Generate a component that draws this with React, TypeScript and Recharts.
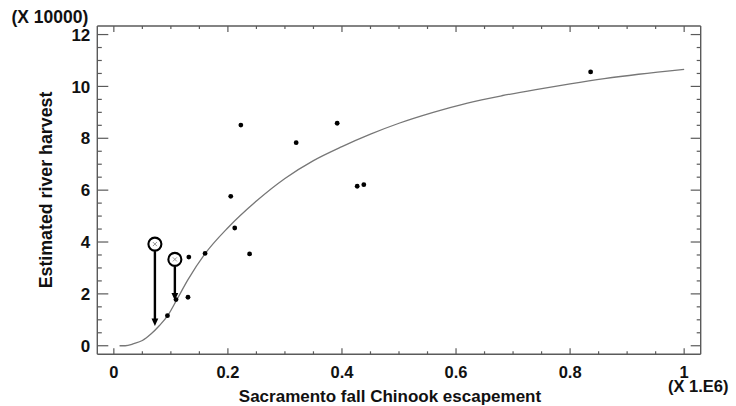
import React from "react";
import {
  ComposedChart,
  Line,
  Scatter,
  XAxis,
  YAxis,
  ReferenceLine,
} from "recharts";

// fitted curve (escapement in millions, harvest in 10000s)
const curveX = [0.01, 0.02, 0.035, 0.05, 0.065, 0.08, 0.095, 0.11, 0.13, 0.16, 0.2, 0.25, 0.3, 0.35, 0.4, 0.45, 0.5, 0.56, 0.62, 0.68, 0.74, 0.8, 0.86, 0.92, 1.0];
const curveY = [0, 0, 0.08, 0.2, 0.45, 0.78, 1.18, 1.76, 2.55, 3.55, 4.55, 5.58, 6.45, 7.14, 7.68, 8.16, 8.58, 9.0, 9.36, 9.64, 9.88, 10.1, 10.3, 10.47, 10.66];

// observed years
const obsX = [0.094, 0.109, 0.130, 0.1315, 0.16, 0.205, 0.212, 0.2227, 0.238, 0.3197, 0.3916, 0.4267, 0.4383, 0.836];
const obsY = [1.16, 1.78, 1.87, 3.42, 3.56, 5.76, 4.54, 8.51, 3.54, 7.83, 8.58, 6.15, 6.21, 10.56];

// circled points and where their arrows point
const flagX = [0.072, 0.107];
const flagY = [3.92, 3.33];
const flagTo = [0.76, 1.74];

const xTicks = [0, 0.05, 0.1, 0.15, 0.2, 0.25, 0.3, 0.35, 0.4, 0.45, 0.5, 0.55, 0.6, 0.65, 0.7, 0.75, 0.8, 0.85, 0.9, 0.95, 1];
const yTicks = [0, 0.5, 1, 1.5, 2, 2.5, 3, 3.5, 4, 4.5, 5, 5.5, 6, 6.5, 7, 7.5, 8, 8.5, 9, 9.5, 10, 10.5, 11, 11.5, 12];

const X_DOMAIN: [number, number] = [-0.029, 1.029];
const Y_DOMAIN: [number, number] = [-0.33, 12.33];

const FONT = "'Liberation Sans', Arial, sans-serif";
const FRAME = "#5a5a5a";
const axisLine = { stroke: FRAME, strokeWidth: 1.4 };

const isMajorX = (v: number) => Math.abs(v * 5 - Math.round(v * 5)) < 1e-6;
const isMajorY = (v: number) => Math.abs(v / 2 - Math.round(v / 2)) < 1e-6;
const fmtX = (v: number) => (v === 0 ? "0" : v === 1 ? "1" : v.toFixed(1));

const bottomTick = (p: any) => {
  const v = p.payload.value;
  const major = isMajorX(v);
  return (
    <g>
      <line x1={p.x} x2={p.x} y1={p.y} y2={p.y - (major ? 6 : 3)} stroke={FRAME} strokeWidth={1.2} />
      {major && (
        <text x={p.x} y={p.y + 23.5} textAnchor="middle" fontFamily={FONT} fontWeight="bold" fontSize={16.5} fill="#111">
          {fmtX(v)}
        </text>
      )}
    </g>
  );
};

const topTick = (p: any) => {
  const major = isMajorX(p.payload.value);
  return <line x1={p.x} x2={p.x} y1={p.y} y2={p.y + (major ? 6 : 3)} stroke={FRAME} strokeWidth={1.2} />;
};

const leftTick = (p: any) => {
  const v = p.payload.value;
  const major = isMajorY(v);
  return (
    <g>
      <line x1={p.x} x2={p.x + (major ? 11 : 4.5)} y1={p.y} y2={p.y} stroke={FRAME} strokeWidth={1.2} />
      {major && (
        <text x={p.x - 7} y={p.y} dy="0.36em" textAnchor="end" fontFamily={FONT} fontWeight="bold" fontSize={17} fill="#111">
          {v}
        </text>
      )}
    </g>
  );
};

const rightTick = (p: any) => {
  const major = isMajorY(p.payload.value);
  return <line x1={p.x} x2={p.x - (major ? 10 : 4)} y1={p.y} y2={p.y} stroke={FRAME} strokeWidth={1.2} />;
};

const dotShape = (p: any) => <circle cx={p.cx} cy={p.cy} r={2.4} fill="#000" />;

const flagShape = (p: any) => (
  <g>
    <circle cx={p.cx} cy={p.cy} r={6.5} fill="#fff" stroke="#000" strokeWidth={2.1} />
    <path
      d={`M${p.cx - 2},${p.cy - 2}L${p.cx + 2},${p.cy + 2}M${p.cx - 2},${p.cy + 2}L${p.cx + 2},${p.cy - 2}`}
      stroke="#888"
      strokeWidth={0.9}
    />
  </g>
);

const arrowShape = (p: any) => {
  const x = p.x1;
  const top = Math.min(p.y1, p.y2) + 7;
  const tip = Math.max(p.y1, p.y2);
  return (
    <g>
      <line x1={x} x2={x} y1={top} y2={tip - 6} stroke="#000" strokeWidth={2.4} />
      <polygon points={`${x - 3.4},${tip - 7.5} ${x + 3.4},${tip - 7.5} ${x},${tip}`} fill="#000" />
    </g>
  );
};

export default function App() {
  const curve = curveX.map((x, i) => ({ x, y: curveY[i] }));
  const obs = obsX.map((x, i) => ({ x, y: obsY[i] }));
  const flags = flagX.map((x, i) => ({ x, y: flagY[i] }));

  return (
    <div style={{ position: "absolute", left: 0, top: 0, width: 736, height: 406, background: "#fff" }}>
      <ComposedChart
        width={736}
        height={406}
        margin={{ top: 16, right: 25.3, bottom: 21.7, left: 37.3 }}
      >
        <XAxis
          xAxisId="b"
          type="number"
          dataKey="x"
          domain={X_DOMAIN}
          ticks={xTicks}
          interval={0}
          allowDataOverflow
          height={30}
          tickSize={0}
          tickMargin={0}
          axisLine={axisLine}
          tickLine={false}
          tick={bottomTick}
        />
        <XAxis
          xAxisId="t"
          orientation="top"
          type="number"
          dataKey="x"
          domain={X_DOMAIN}
          ticks={xTicks}
          interval={0}
          allowDataOverflow
          height={10}
          tickSize={0}
          tickMargin={0}
          axisLine={axisLine}
          tickLine={false}
          tick={topTick}
        />
        <YAxis
          yAxisId="l"
          type="number"
          dataKey="y"
          domain={Y_DOMAIN}
          ticks={yTicks}
          interval={0}
          allowDataOverflow
          width={60}
          tickSize={0}
          tickMargin={0}
          axisLine={axisLine}
          tickLine={false}
          tick={leftTick}
        />
        <YAxis
          yAxisId="r"
          orientation="right"
          type="number"
          dataKey="y"
          domain={Y_DOMAIN}
          ticks={yTicks}
          interval={0}
          allowDataOverflow
          width={10}
          tickSize={0}
          tickMargin={0}
          axisLine={axisLine}
          tickLine={false}
          tick={rightTick}
        />

        <Line
          xAxisId="b"
          yAxisId="l"
          data={curve}
          dataKey="y"
          type="monotone"
          stroke="#777"
          strokeWidth={1.3}
          dot={false}
          activeDot={false}
          isAnimationActive={false}
        />

        {flagX.map((x, i) => (
          <ReferenceLine
            key={i}
            xAxisId="b"
            yAxisId="l"
            segment={[
              { x, y: flagY[i] },
              { x, y: flagTo[i] },
            ]}
            shape={arrowShape}
          />
        ))}

        <Scatter xAxisId="b" yAxisId="l" data={obs} dataKey="y" shape={dotShape} isAnimationActive={false} />
        <Scatter xAxisId="b" yAxisId="l" data={flags} dataKey="y" shape={flagShape} isAnimationActive={false} />
      </ComposedChart>

      <svg
        width={736}
        height={406}
        style={{ position: "absolute", left: 0, top: 0, pointerEvents: "none" }}
        fontFamily={FONT}
        fontWeight="bold"
        fill="#111"
      >
        <text x={11.5} y={22.5} fontSize={17.5}>(X 10000)</text>
        <text x={52} y={190} fontSize={17.8} textAnchor="middle" transform="rotate(-90 52 190)">
          Estimated river harvest
        </text>
        <text x={390} y={401.5} fontSize={17} textAnchor="middle">
          Sacramento fall Chinook escapement
        </text>
        <text x={668} y={391.5} fontSize={16.5}>(X 1.E6)</text>
      </svg>
    </div>
  );
}
